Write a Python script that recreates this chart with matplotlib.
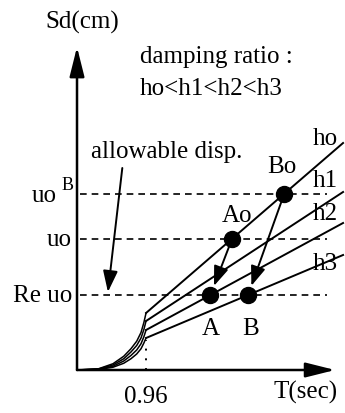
import numpy as np
import matplotlib.pyplot as plt

plt.rcParams['font.family'] = ['Liberation Serif', 'DejaVu Serif']

# response lines for each damping ratio, straight from T=0.96 on
names = ['ho', 'h1', 'h2', 'h3']
line_T = [0.96, 3.70]
line_start = [2.28, 1.96, 1.60, 1.28]
line_end = [9.08, 7.12, 5.88, 4.60]

# short-period part of each spectrum, from the origin up to T=0.96
curve_T = [0, 0.3, 0.5, 0.65, 0.75, 0.83, 0.89, 0.93, 0.96]
curve_sd = [
    [0, 0.05, 0.25, 0.55, 0.85, 1.15, 1.50, 1.90, 2.28],
    [0, 0.04, 0.20, 0.45, 0.72, 0.98, 1.28, 1.62, 1.96],
    [0, 0.03, 0.15, 0.36, 0.58, 0.80, 1.05, 1.33, 1.60],
    [0, 0.02, 0.11, 0.27, 0.45, 0.64, 0.85, 1.08, 1.28],
]

T_corner = 0.96
re_uo = 3.0
uo = 5.25
uo_B = 7.05


def T_at(i, sd):
    slope = (line_end[i] - line_start[i]) / (line_T[1] - line_T[0])
    return line_T[0] + (sd - line_start[i]) / slope


fig = plt.figure(figsize=(3.45, 4.13), dpi=100)
ax = fig.add_axes([0, 0, 1, 1])
ax.set_xlim(-1.071, 3.727)
ax.set_ylim(-1.72, 14.8)
ax.axis('off')

# axes with arrow heads
ax.annotate('', xy=(0, 12.92), xytext=(0, 0),
            arrowprops=dict(arrowstyle='-|>,head_length=1.8,head_width=0.45',
                            mutation_scale=10, lw=1.8, color='k',
                            shrinkA=0, shrinkB=0))
ax.annotate('', xy=(3.59, 0), xytext=(0, 0),
            arrowprops=dict(arrowstyle='-|>,head_length=1.8,head_width=0.45',
                            mutation_scale=10, lw=1.8, color='k',
                            shrinkA=0, shrinkB=0))

# displacement levels
for lev in [uo_B, uo, re_uo]:
    ax.plot([0.04, 3.48], [lev, lev], color='k', lw=1.2, dashes=(4, 3))

ax.plot([T_corner, T_corner], [0, 1.2], color='k', lw=1.4,
        linestyle=(0, (1, 4)))

for i in range(4):
    ax.plot(curve_T, curve_sd[i], color='k', lw=1.1)
    ax.plot(line_T, [line_start[i], line_end[i]], color='k', lw=1.4)

# response points
Ao = (T_at(0, uo), uo)
Bo = (T_at(0, uo_B), uo_B)
A = (T_at(2, re_uo), re_uo)
B = (T_at(3, re_uo), re_uo)
for p in [Ao, Bo, A, B]:
    ax.plot(p[0], p[1], 'o', color='k', ms=11.5)

for start, end in [(Ao, A), (Bo, B)]:
    ax.annotate('', xy=end, xytext=start,
                arrowprops=dict(arrowstyle='-|>,head_length=1.2,head_width=0.45',
                                mutation_scale=10, lw=1.4, color='k',
                                shrinkA=0, shrinkB=7))

ax.annotate('', xy=(0.43, 3.12), xytext=(0.63, 8.08),
            arrowprops=dict(arrowstyle='-|>,head_length=1.3,head_width=0.45',
                            mutation_scale=10, lw=1.4, color='k',
                            shrinkA=0, shrinkB=0))

fs = 18
ax.text(0.07, 13.64, 'Sd(cm)', fontsize=fs, ha='center', va='baseline')
ax.text(0.876, 12.28, 'damping ratio :', fontsize=fs, va='baseline')
ax.text(0.876, 11.0, 'ho<h1<h2<h3', fontsize=fs, va='baseline')
ax.text(0.19, 8.48, 'allowable disp.', fontsize=fs, va='baseline')

ax.text(-0.28, 6.72, 'uo', fontsize=fs, ha='right', va='baseline')
ax.text(-0.22, 7.2, 'B', fontsize=13, ha='left', va='baseline')
ax.text(-0.07, 4.96, 'uo', fontsize=fs, ha='right', va='baseline')
ax.text(-0.07, 2.72, 'Re uo', fontsize=fs, ha='right', va='baseline')

label_sd = [9.0, 7.32, 6.0, 4.0]
for name, y in zip(names, label_sd):
    ax.text(3.28, y, name, fontsize=fs, va='baseline')

ax.text(2.017, 5.92, 'Ao', fontsize=fs, va='baseline')
ax.text(2.64, 7.88, 'Bo', fontsize=fs, va='baseline')
ax.text(A[0], 1.4, 'A', fontsize=fs, ha='center', va='baseline')
ax.text(B[0] + 0.04, 1.4, 'B', fontsize=fs, ha='center', va='baseline')

ax.text(T_corner, -1.32, '0.96', fontsize=fs, ha='center', va='baseline')
ax.text(2.726, -1.16, 'T(sec)', fontsize=fs, va='baseline')

fig.savefig('out.png', dpi=100)
